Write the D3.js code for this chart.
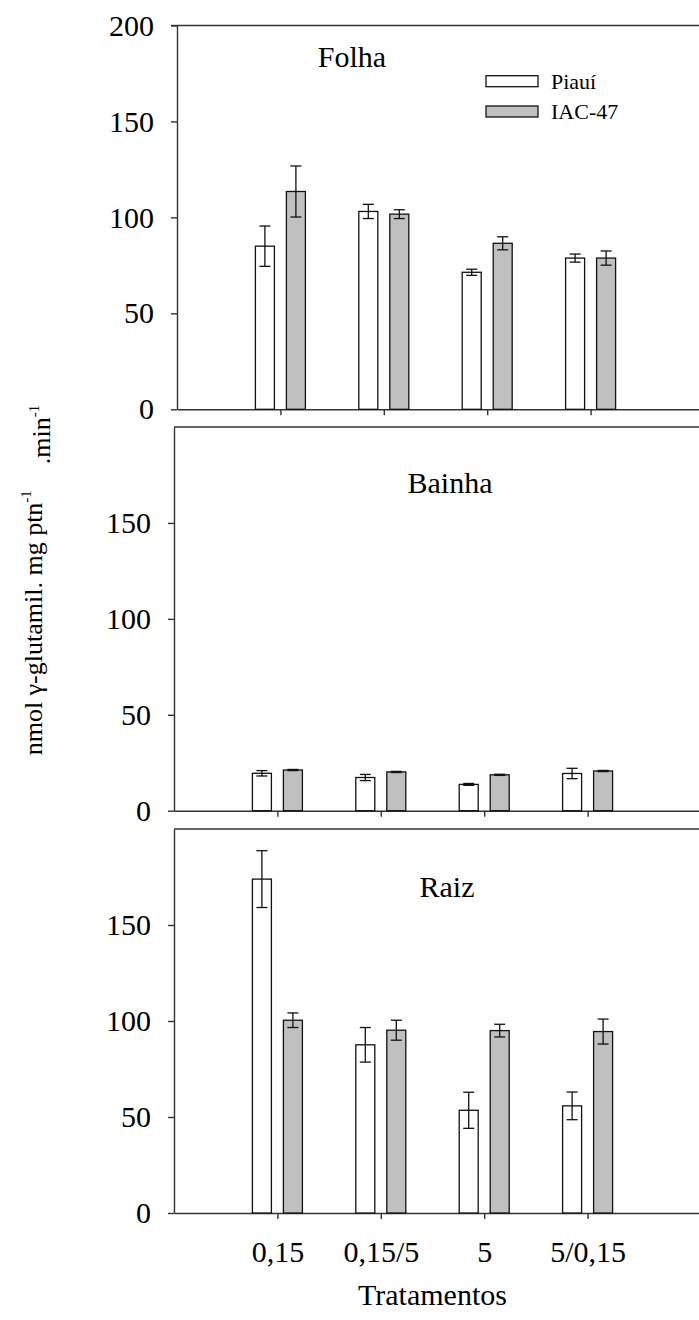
<!DOCTYPE html>
<html>
<head>
<meta charset="utf-8">
<script src="https://cdn.jsdelivr.net/npm/d3@7/dist/d3.min.js"></script>
<style>
  html, body { margin: 0; padding: 0; background: #fff; }
  svg { display: block; }
  text { font-family: "Liberation Serif", "Times New Roman", serif; fill: #000; }
</style>
</head>
<body>
<svg id="chart" width="699" height="1320"></svg>
<script>
// Treatments (x categories) and cultivars
const categories = ["0,15", "0,15/5", "5", "5/0,15"];
const cultivars = ["Piauí", "IAC-47"];
const panelNames = ["Folha", "Bainha", "Raiz"];

// Folha (leaf)
const folhaPiaui    = [85.0, 103.1, 71.4, 78.8];
const folhaPiauiErr = [10.5, 3.7, 1.6, 2.1];
const folhaIAC      = [113.5, 101.7, 86.5, 78.8];
const folhaIACErr   = [13.3, 2.3, 3.4, 3.7];

// Bainha (sheath)
const bainhaPiaui    = [19.5, 17.3, 13.7, 19.4];
const bainhaPiauiErr = [1.4, 1.6, 0.5, 2.7];
const bainhaIAC      = [21.2, 20.2, 18.7, 20.7];
const bainhaIACErr   = [0.3, 0.3, 0.3, 0.3];

// Raiz (root)
const raizPiaui    = [173.9, 87.6, 53.5, 55.8];
const raizPiauiErr = [14.8, 9.0, 9.4, 7.2];
const raizIAC      = [100.4, 95.2, 95.0, 94.5];
const raizIACErr   = [3.8, 5.2, 3.3, 6.5];

// Axis ticks
const yTicksTop = [0, 50, 100, 150, 200];
const yTicksLower = [0, 50, 100, 150];
const xLabel = "Tratamentos";

const series = [
  [[folhaPiaui, folhaPiauiErr], [folhaIAC, folhaIACErr]],
  [[bainhaPiaui, bainhaPiauiErr], [bainhaIAC, bainhaIACErr]],
  [[raizPiaui, raizPiauiErr], [raizIAC, raizIACErr]]
];

// Panel geometry
const layout = [
  { x0: 177, top: 25.5, base: 409.3, ticks: yTicksTop,   title: [352, 67] },
  { x0: 174, top: 427,  base: 810.7, ticks: yTicksLower, title: [450, 493] },
  { x0: 174, top: 829,  base: 1213,  ticks: yTicksLower, title: [447, 897] }
];

const step = 103.4;
const barW = 19;
const barOff = 15.5;
const fills = ["#ffffff", "#c0c0c0"];
const axisColor = "#333";

const svg = d3.select("#chart");

layout.forEach((L, p) => {
  const g = svg.append("g");
  const x = d3.scaleLinear().domain([0, 5.5]).range([L.x0, L.x0 + 5.5 * step]);
  const y = d3.scaleLinear().domain([0, 200]).range([L.base, L.top]);

  // top frame line
  g.append("line")
    .attr("x1", L.x0).attr("x2", 720)
    .attr("y1", L.top).attr("y2", L.top)
    .attr("stroke", axisColor).attr("stroke-width", 1.4);

  // y axis
  const ya = g.append("g")
    .attr("transform", `translate(${L.x0},0)`)
    .call(d3.axisLeft(y).tickValues(L.ticks).tickSize(6).tickSizeOuter(0).tickPadding(17).tickFormat(d3.format("d")));
  ya.select(".domain").attr("stroke", axisColor).attr("stroke-width", 1.4);
  ya.selectAll(".tick line").attr("stroke", axisColor).attr("stroke-width", 1.4);
  ya.selectAll(".tick text").attr("font-size", 30).attr("font-family", "Liberation Serif, serif").attr("fill", "#000");
  if (p === 0) {
    ya.append("line").attr("x1", -6).attr("x2", 0).attr("y1", y(200)).attr("y2", y(200))
      .attr("stroke", axisColor).attr("stroke-width", 1.4);
  }

  // x axis
  const xa = g.append("g")
    .attr("transform", `translate(0,${L.base})`)
    .call(d3.axisBottom(x).tickValues([1, 2, 3, 4]).tickSize(6).tickSizeOuter(0).tickPadding(22)
      .tickFormat(p === 2 ? (d => categories[d - 1]) : () => ""));
  xa.select(".domain").attr("stroke", axisColor).attr("stroke-width", 1.4);
  xa.selectAll(".tick line").attr("stroke", axisColor).attr("stroke-width", 1.4);
  xa.selectAll(".tick text").attr("font-size", 30).attr("font-family", "Liberation Serif, serif").attr("fill", "#000");

  // bars and error bars
  series[p].forEach(([vals, errs], s) => {
    const off = s === 0 ? -barOff : barOff;
    g.selectAll(null).data(vals).enter().append("rect")
      .attr("x", (d, i) => x(i + 1) + off - barW / 2)
      .attr("y", d => y(d))
      .attr("width", barW)
      .attr("height", d => y(0) - y(d))
      .attr("fill", fills[s])
      .attr("stroke", "#111").attr("stroke-width", 1.3);

    const eb = g.selectAll(null).data(vals).enter().append("g")
      .attr("stroke", "#111").attr("stroke-width", 1.3);
    eb.append("line")
      .attr("x1", (d, i) => x(i + 1) + off).attr("x2", (d, i) => x(i + 1) + off)
      .attr("y1", (d, i) => y(d + errs[i])).attr("y2", (d, i) => y(d - errs[i]));
    eb.append("line")
      .attr("x1", (d, i) => x(i + 1) + off - 5.5).attr("x2", (d, i) => x(i + 1) + off + 5.5)
      .attr("y1", (d, i) => y(d + errs[i])).attr("y2", (d, i) => y(d + errs[i]));
    eb.append("line")
      .attr("x1", (d, i) => x(i + 1) + off - 5.5).attr("x2", (d, i) => x(i + 1) + off + 5.5)
      .attr("y1", (d, i) => y(d - errs[i])).attr("y2", (d, i) => y(d - errs[i]));
  });

  // panel title
  g.append("text")
    .attr("x", L.title[0]).attr("y", L.title[1])
    .attr("text-anchor", "middle").attr("font-size", 30)
    .text(panelNames[p]);

  // legend (leaf panel)
  if (p === 0) {
    const lg = g.append("g");
    cultivars.forEach((c, s) => {
      lg.append("rect")
        .attr("x", 486).attr("y", 75.7 + s * 30.3)
        .attr("width", 52).attr("height", 11)
        .attr("fill", fills[s]).attr("stroke", "#111").attr("stroke-width", 1.3);
      lg.append("text")
        .attr("x", 551).attr("y", 89 + s * 30.3)
        .attr("font-size", 22)
        .text(c);
    });
  }

  if (p === 2) {
    g.append("text")
      .attr("x", (x(0) + x(5)) / 2).attr("y", 1305)
      .attr("text-anchor", "middle").attr("font-size", 30)
      .text(xLabel);
  }
});

// y-axis title
const yt = svg.append("text")
  .attr("transform", "translate(42,580) rotate(-90)")
  .attr("text-anchor", "middle")
  .attr("font-size", 26);
yt.append("tspan").text("nmol γ-glutamil. mg ptn");
yt.append("tspan").attr("dy", "-0.75em").attr("font-size", 15).text("-1");
yt.append("tspan").attr("dy", "0.75em").text("\u2002\u2002.min");
yt.append("tspan").attr("dy", "-0.75em").attr("font-size", 15).text("-1");
</script>
</body>
</html>
